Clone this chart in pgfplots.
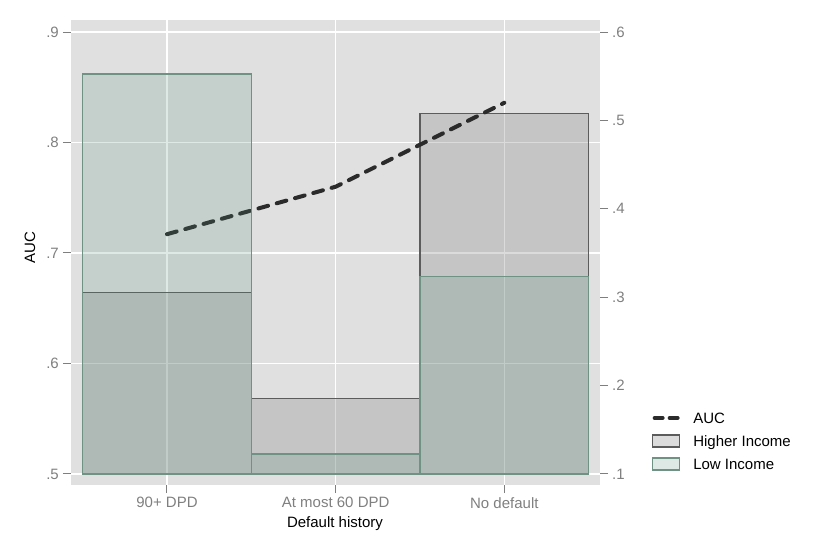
\documentclass[border=0pt]{standalone}
\usepackage{fontspec}
\setmainfont{Liberation Sans}
\usepackage{pgfplots}
\pgfplotsset{compat=1.18}
\definecolor{panel}{RGB}{224,224,224}
\definecolor{tickgray}{RGB}{127,127,127}
\definecolor{hifill}{RGB}{134,134,134}
\definecolor{hiline}{RGB}{92,92,92}
\definecolor{lofill}{RGB}{82,135,114}
\definecolor{loline}{RGB}{112,146,133}
\definecolor{aucline}{RGB}{43,43,43}
\newcommand{\fs}{\fontsize{15}{18}\selectfont}
\begin{document}
\begin{tikzpicture}
\begin{axis}[
  at={(71pt,69pt)}, anchor=south west,
  scale only axis, width=529pt, height=465pt,
  xmin=-0.569, xmax=2.567, ymin=0.49, ymax=0.9109,
  axis background/.style={fill=panel},
  axis line style={draw=none},
  xtick={0,1,2}, xticklabels={90+ DPD, At most 60 DPD, No default},
  ytick={0.5,0.6,0.7,0.8,0.9}, yticklabels={.5,.6,.7,.8,.9},
  xtick pos=bottom, ytick pos=left,
  xmajorgrids, ymajorgrids,
  grid style={white, line width=1.4pt},
  tick align=outside, major tick length=8pt,
  tick style={color=tickgray, line width=1pt},
  ticklabel style={font=\fs, text=tickgray, inner sep=4pt},
  label style={font=\fs},
  xlabel={Default history}, ylabel={AUC},
  xlabel style={at={(axis description cs:0.499,-0.0914)}, anchor=base},
  ylabel style={at={(axis description cs:-0.068,0.5097)}, anchor=base},
  legend cell align=left,
  legend style={at={(1.0983,0.1584)}, anchor=north west, draw=none, fill=none,
    inner sep=0pt, outer sep=0pt, row sep=9.7pt, column sep=13pt,
    nodes={inner sep=0pt, text height=12pt, text depth=1.3pt, font=\fs}},
]
\addlegendimage{legend image code/.code={\draw[aucline, line width=4pt, dash pattern=on 8pt off 7pt, line cap=round] (2pt,0pt)--(25pt,0pt);}}
\addlegendentry{AUC}
\addlegendimage{legend image code/.code={\draw[fill=hifill, fill opacity=0.29, draw=hiline, line width=1.3pt] (0pt,-6pt) rectangle (27pt,6pt);}}
\addlegendentry{Higher Income}
\addlegendimage{legend image code/.code={\draw[fill=lofill, fill opacity=0.19, draw=loline, line width=1.3pt] (0pt,-6pt) rectangle (27pt,6pt);}}
\addlegendentry{Low Income}

% Higher Income bars
\addplot[forget plot, fill=hifill, fill opacity=0.29, draw=hiline, line width=1.3pt]
  coordinates {(-0.5,0.5) (-0.5,0.664) (0.5,0.664) (0.5,0.5)} --cycle;
\addplot[forget plot, fill=hifill, fill opacity=0.29, draw=hiline, line width=1.3pt]
  coordinates {(0.5,0.5) (0.5,0.568) (1.5,0.568) (1.5,0.5)} --cycle;
\addplot[forget plot, fill=hifill, fill opacity=0.29, draw=hiline, line width=1.3pt]
  coordinates {(1.5,0.5) (1.5,0.826) (2.5,0.826) (2.5,0.5)} --cycle;

% AUC line
\addplot[forget plot, aucline, line width=4pt, dash pattern=on 10pt off 9pt, line cap=round]
  coordinates {(0,0.717) (1,0.760) (2,0.836)};

% Low Income bars
\addplot[forget plot, fill=lofill, fill opacity=0.19, draw=loline, line width=1.3pt]
  coordinates {(-0.5,0.5) (-0.5,0.862) (0.5,0.862) (0.5,0.5)} --cycle;
\addplot[forget plot, fill=lofill, fill opacity=0.19, draw=loline, line width=1.3pt]
  coordinates {(0.5,0.5) (0.5,0.518) (1.5,0.518) (1.5,0.5)} --cycle;
\addplot[forget plot, fill=lofill, fill opacity=0.19, draw=loline, line width=1.3pt]
  coordinates {(1.5,0.5) (1.5,0.679) (2.5,0.679) (2.5,0.5)} --cycle;
\end{axis}
\begin{axis}[
  at={(71pt,69pt)}, anchor=south west,
  scale only axis, width=529pt, height=465pt,
  xmin=-0.569, xmax=2.567, ymin=0.0875, ymax=0.6136,
  hide x axis, axis line style={draw=none},
  ytick={0.1,0.2,0.3,0.4,0.5,0.6}, yticklabels={.1,.2,.3,.4,.5,.6},
  ytick pos=right, yticklabel pos=right,
  tick align=outside, major tick length=8pt,
  tick style={color=tickgray, line width=1pt},
  ticklabel style={font=\fs, text=tickgray, inner sep=4pt},
]
\end{axis}
\pgfresetboundingbox
\path[use as bounding box] (0,0) rectangle (830pt,554pt);
\end{tikzpicture}
\end{document}
